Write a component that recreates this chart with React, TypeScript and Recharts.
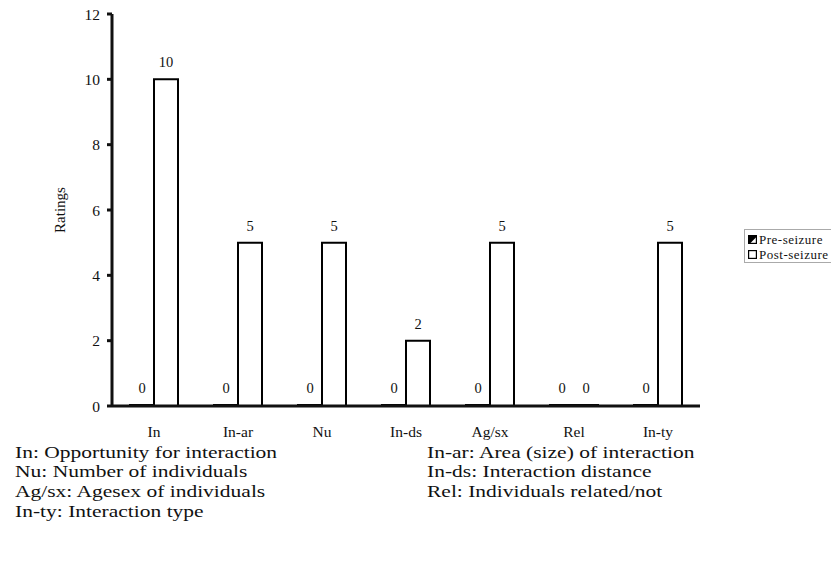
import React from 'react';
import { BarChart, Bar, XAxis, YAxis, LabelList } from 'recharts';

const categories = ['In', 'In-ar', 'Nu', 'In-ds', 'Ag/sx', 'Rel', 'In-ty'];
const preSeizure = [0, 0, 0, 0, 0, 0, 0];
const postSeizure = [10, 5, 5, 2, 5, 0, 5];
const yTicks = [0, 2, 4, 6, 8, 10, 12];
const edgeTicks = [0, 1, 2, 3, 4, 5, 6, 7];
const seriesNames = ['Pre-seizure', 'Post-seizure'];
const footerLeft = [
  'In: Opportunity for interaction',
  'Nu: Number of individuals',
  'Ag/sx: Agesex of individuals',
  'In-ty: Interaction type',
];
const footerRight = [
  'In-ar: Area (size) of interaction',
  'In-ds: Interaction distance',
  'Rel: Individuals related/not',
];

const data = categories.map((c, i) => ({ name: c, pre: preSeizure[i], post: postSeizure[i] }));

const FONT = '"Liberation Serif", "Times New Roman", serif';

const LegendBox = () => (
  <div
    style={{
      position: 'absolute',
      left: 744,
      top: 229,
      width: 87,
      height: 34,
      boxSizing: 'border-box',
      border: '1px solid #aaa',
      borderRight: 'none',
      padding: '2px 0 0 3px',
      fontFamily: FONT,
      fontSize: 13,
      letterSpacing: 0.5,
      color: '#111',
      background: '#fff',
      lineHeight: '15px',
    }}
  >
    <div style={{ display: 'flex', alignItems: 'center', height: 15 }}>
      <svg width={9} height={9} style={{ marginRight: 2 }}>
        <rect x={0.6} y={0.6} width={7.8} height={7.8} fill="#fff" stroke="#000" strokeWidth={1.2} />
        <polygon points="0.6,0.6 8.4,0.6 8.4,2 2,8.4 0.6,8.4" fill="#000" />
      </svg>
      <span>{seriesNames[0]}</span>
    </div>
    <div style={{ display: 'flex', alignItems: 'center', height: 15 }}>
      <svg width={9} height={9} style={{ marginRight: 2 }}>
        <rect x={0.6} y={0.6} width={7.8} height={7.8} fill="#fff" stroke="#000" strokeWidth={1.2} />
      </svg>
      <span>{seriesNames[1]}</span>
    </div>
  </div>
);

const footerStyle = (left: number): React.CSSProperties => ({
  position: 'absolute',
  left,
  top: 442,
  fontFamily: FONT,
  fontSize: 21.5,
  lineHeight: '24px',
  color: '#111',
  whiteSpace: 'nowrap',
  transform: 'scaleY(0.82)',
  transformOrigin: 'left top',
});

export default function App() {
  return (
    <div style={{ position: 'absolute', left: 0, top: 0, width: 831, height: 577, background: '#fff', overflow: 'hidden' }}>
      <BarChart
        width={831}
        height={450}
        data={data}
        margin={{ top: 14, right: 131, left: 0, bottom: 14 }}
        barGap={0}
        barSize={24}
      >
        <XAxis
          xAxisId="edge"
          type="number"
          domain={[0, 7]}
          ticks={edgeTicks}
          allowDataOverflow
          height={0}
          axisLine={false}
          tick={false}
          tickLine={{ stroke: '#000', strokeWidth: 2.5 }}
          tickSize={6}
        />
        <XAxis
          xAxisId="cat"
          dataKey="name"
          height={30}
          axisLine={{ stroke: '#111', strokeWidth: 3 }}
          tickLine={false}
          tickSize={0}
          tickMargin={20}
          tick={{ fill: '#111', fontSize: 15.5, fontFamily: FONT }}
          interval={0}
        />
        <YAxis
          width={112}
          domain={[0, 12]}
          ticks={yTicks}
          axisLine={{ stroke: '#111', strokeWidth: 3 }}
          tickLine={{ stroke: '#111', strokeWidth: 3 }}
          tickSize={5}
          tickMargin={7}
          tick={{ fill: '#111', fontSize: 15.5, fontFamily: FONT }}
          label={{ value: 'Ratings', angle: -90, position: 'center', dx: 4, style: { fill: '#111', fontSize: 15, fontFamily: FONT } }}
        />
        <Bar xAxisId="cat" dataKey="pre" name={seriesNames[0]} fill="#fff" stroke="#000" strokeWidth={2} minPointSize={1} isAnimationActive={false}>
          <LabelList dataKey="pre" position="top" offset={12} style={{ fill: '#111', fontSize: 14.5, fontFamily: FONT }} />
        </Bar>
        <Bar xAxisId="cat" dataKey="post" name={seriesNames[1]} fill="#fff" stroke="#000" strokeWidth={2} minPointSize={1} isAnimationActive={false}>
          <LabelList dataKey="post" position="top" offset={12} style={{ fill: '#111', fontSize: 14.5, fontFamily: FONT }} />
        </Bar>
      </BarChart>
      <LegendBox />
      <div style={footerStyle(15)}>
        {footerLeft.map((t) => (
          <div key={t}>{t}</div>
        ))}
      </div>
      <div style={footerStyle(427)}>
        {footerRight.map((t) => (
          <div key={t}>{t}</div>
        ))}
      </div>
    </div>
  );
}
